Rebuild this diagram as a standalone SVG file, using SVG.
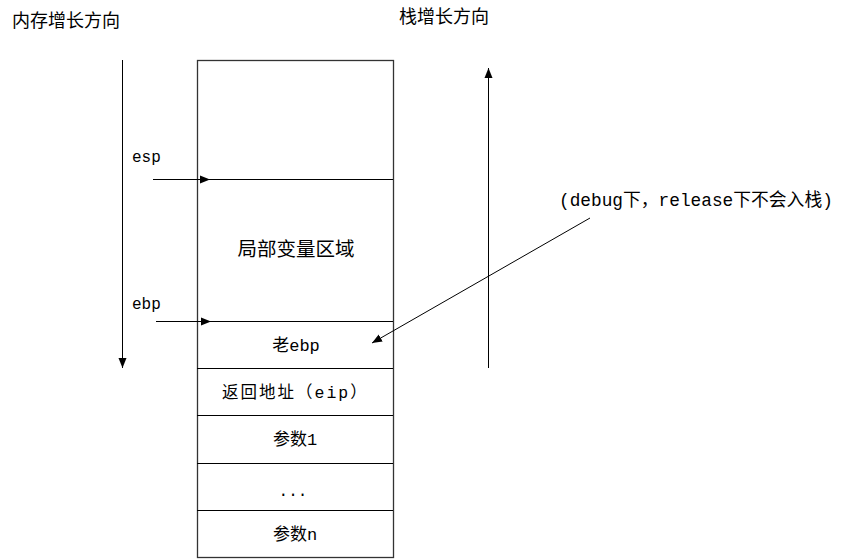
<svg xmlns="http://www.w3.org/2000/svg" width="848" height="559" viewBox="0 0 848 559">
<style>
.ln{stroke:#000;stroke-width:1;fill:none}
.box{stroke:#333;stroke-width:1.3;fill:#fff}
.t{font-family:"Liberation Serif","Noto Sans CJK SC",serif;font-size:18px;fill:#000}
.m{font-family:"Liberation Mono","Noto Sans CJK SC",monospace;font-size:16px;fill:#000}
.c{text-anchor:middle}
</style>
<defs>
<marker id="ah" viewBox="0 0 10 10" refX="10" refY="5" markerWidth="10" markerHeight="10" markerUnits="userSpaceOnUse" orient="auto">
<path d="M0,1 L10,5 L0,9 z" fill="#000"/>
</marker>
</defs>
<rect width="848" height="559" fill="#fff"/>
<text class="t" x="12" y="27">内存增长方向</text>
<text class="t" x="399" y="23">栈增长方向</text>
<g id="stack">
<rect class="box" x="197.5" y="60.5" width="196" height="497"/>
<line class="ln" x1="197" y1="179.5" x2="393" y2="179.5"/>
<line class="ln" x1="197" y1="321.5" x2="393" y2="321.5"/>
<line class="ln" x1="197" y1="368.5" x2="393" y2="368.5"/>
<line class="ln" x1="197" y1="415.5" x2="393" y2="415.5"/>
<line class="ln" x1="197" y1="463.5" x2="393" y2="463.5"/>
<line class="ln" x1="197" y1="510.5" x2="393" y2="510.5"/>
</g>
<g id="locals"><text class="t c" x="296" y="256" style="font-size:19.5px">局部变量区域</text></g>
<g id="oldebp"><text class="m c" x="296" y="351" style="font-size:17px">老ebp</text></g>
<g id="ret"><text class="m" x="222" y="398" style="font-size:16.5px;letter-spacing:2px">返回地址（eip）</text></g>
<g id="arg1"><text class="m c" x="295" y="445" style="font-size:17px">参数1</text></g>
<g id="dots"><text class="m c" x="293" y="496">...</text></g>
<g id="argn"><text class="m c" x="295" y="540" style="font-size:17px">参数n</text></g>
<g id="labels">
<text class="m" x="132" y="162">esp</text>
<text class="m" x="132" y="309">ebp</text>
<text class="m" x="559" y="206" style="font-size:17.8px">(debug下，release下不会入栈)</text>
</g>
<g id="connectors">
<line class="ln" x1="122.5" y1="60" x2="122.5" y2="368" marker-end="url(#ah)"/>
<line class="ln" x1="488.5" y1="368" x2="488.5" y2="68" marker-end="url(#ah)"/>
<line class="ln" x1="153" y1="179.5" x2="210" y2="179.5" marker-end="url(#ah)"/>
<line class="ln" x1="156" y1="321.5" x2="211" y2="321.5" marker-end="url(#ah)"/>
<line class="ln" x1="590" y1="218" x2="372" y2="343" marker-end="url(#ah)"/>
</g>
</svg>
